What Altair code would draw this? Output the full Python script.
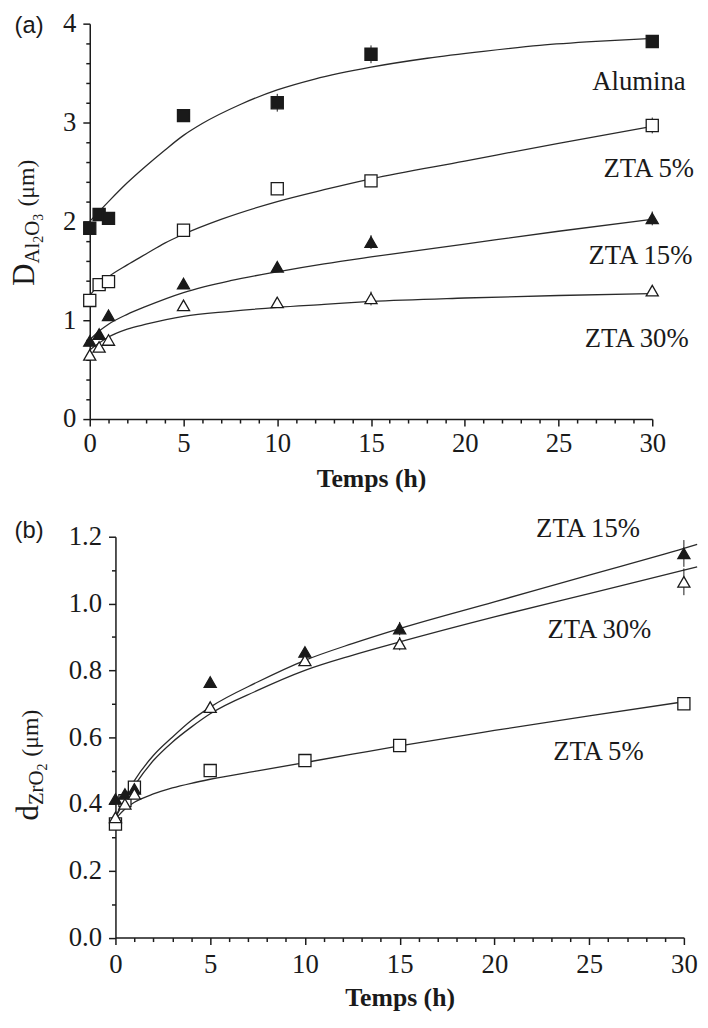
import altair as alt
import pandas as pd

FONT = "Liberation Serif"
SANS = "Liberation Sans"
INK = "#1a1a1a"

# ---------------- data ----------------
series = ["Alumina", "ZTA 5%", "ZTA 15%", "ZTA 30%"]
shapes = ["square", "square", "triangle-up", "triangle-up"]
fills = [INK, "white", INK, "white"]

# Panel (a): D Al2O3 (µm) vs Temps (h)
t_pts_a = [0, 0.5, 1, 5, 10, 15, 30]
a_alumina = [1.93, 2.07, 2.03, 3.07, 3.20, 3.69, 3.82]
a_zta5 = [1.20, 1.36, 1.39, 1.91, 2.33, 2.41, 2.97]
a_zta15 = [0.79, 0.86, 1.05, 1.37, 1.54, 1.79, 2.03]
a_zta30 = [0.65, 0.73, 0.80, 1.15, 1.18, 1.22, 1.30]
# error bars (half-width)
ea_alumina = [0, 0, 0, 0.04, 0.09, 0.09, 0.03]
ea_zta5 = [0, 0, 0, 0.05, 0.03, 0.04, 0.08]
ea_zta15 = [0, 0, 0, 0.03, 0.04, 0.07, 0.07]
ea_zta30 = [0, 0, 0, 0.05, 0.04, 0.07, 0.04]

t_fit_al = [0, 1, 2, 3, 4, 5, 6, 8, 10, 12, 15, 18, 21, 24, 27, 30]
fa_alumina = [2.00, 2.20, 2.39, 2.56, 2.72, 2.87, 2.99, 3.18, 3.33, 3.44, 3.56, 3.65, 3.72, 3.78, 3.82, 3.85]
t_fit_z5 = [0, 0.5, 1, 2, 3, 4, 5, 7, 10, 12.5, 15, 20, 25, 30]
fa_zta5 = [1.25, 1.36, 1.44, 1.56, 1.67, 1.78, 1.87, 2.02, 2.20, 2.32, 2.43, 2.61, 2.79, 2.96]
t_fit_z = [0, 0.5, 1, 2, 3, 5, 7.5, 10, 12.5, 15, 20, 25, 30]
fa_zta15 = [0.80, 0.89, 0.96, 1.06, 1.14, 1.28, 1.40, 1.49, 1.57, 1.64, 1.77, 1.90, 2.02]
fa_zta30 = [0.70, 0.77, 0.83, 0.91, 0.96, 1.04, 1.09, 1.13, 1.16, 1.19, 1.225, 1.25, 1.27]

label_series_a = ["Alumina", "ZTA 5%", "ZTA 15%", "ZTA 30%"]
label_t_a = [26.8, 27.4, 26.6, 26.4]
label_v_a = [3.41, 2.53, 1.65, 0.81]

# Panel (b): d ZrO2 (µm) vs Temps (h)
t_pts_b = [0, 0.5, 1, 5, 10, 15, 30]
b_zta5 = [0.34, 0.41, 0.45, 0.50, 0.53, 0.575, 0.70]
b_zta15 = [0.415, 0.43, 0.445, 0.765, 0.855, 0.925, 1.15]
b_zta30 = [0.36, 0.40, 0.43, 0.69, 0.83, 0.88, 1.065]
eb_zta5 = [0, 0, 0, 0.01, 0.01, 0.012, 0.015]
eb_zta15 = [0, 0, 0, 0.012, 0.015, 0.02, 0.04]
eb_zta30 = [0, 0, 0, 0.015, 0.015, 0.02, 0.04]

t_fit_b5 = [0, 0.5, 1, 2, 3, 4, 5, 7.5, 10, 12.5, 15, 20, 25, 30]
fb_zta5 = [0.355, 0.385, 0.405, 0.43, 0.448, 0.462, 0.474, 0.499, 0.524, 0.549, 0.574, 0.62, 0.664, 0.706]
t_fit_b = [0, 0.5, 1, 2, 3, 4, 5, 7.5, 10, 12.5, 15, 20, 25, 30, 30.7]
fb_zta15 = [0.36, 0.42, 0.47, 0.545, 0.60, 0.65, 0.69, 0.765, 0.83, 0.88, 0.925, 1.005, 1.085, 1.165, 1.177]
fb_zta30 = [0.36, 0.41, 0.455, 0.53, 0.585, 0.63, 0.67, 0.74, 0.80, 0.845, 0.885, 0.96, 1.03, 1.10, 1.11]

label_series_b = ["ZTA 15%", "ZTA 30%", "ZTA 5%"]
label_t_b = [22.2, 22.8, 23.1]
label_v_b = [1.223, 0.92, 0.555]


def long_df(items):
    rows = []
    for name, t, vals, errs in items:
        for tt, vv, ee in zip(t, vals, errs):
            rows.append({"t": tt, "v": vv, "s": name, "lo": vv - ee, "hi": vv + ee, "e": ee})
    return pd.DataFrame(rows)


pts_a = long_df([
    ("Alumina", t_pts_a, a_alumina, ea_alumina),
    ("ZTA 5%", t_pts_a, a_zta5, ea_zta5),
    ("ZTA 15%", t_pts_a, a_zta15, ea_zta15),
    ("ZTA 30%", t_pts_a, a_zta30, ea_zta30),
])
fit_a = long_df([
    ("Alumina", t_fit_al, fa_alumina, [0] * len(t_fit_al)),
    ("ZTA 5%", t_fit_z5, fa_zta5, [0] * len(t_fit_z5)),
    ("ZTA 15%", t_fit_z, fa_zta15, [0] * len(t_fit_z)),
    ("ZTA 30%", t_fit_z, fa_zta30, [0] * len(t_fit_z)),
])
lab_a = pd.DataFrame({"s": label_series_a, "t": label_t_a, "v": label_v_a})

pts_b = long_df([
    ("ZTA 5%", t_pts_b, b_zta5, eb_zta5),
    ("ZTA 15%", t_pts_b, b_zta15, eb_zta15),
    ("ZTA 30%", t_pts_b, b_zta30, eb_zta30),
])
fit_b = long_df([
    ("ZTA 5%", t_fit_b5, fb_zta5, [0] * len(t_fit_b5)),
    ("ZTA 15%", t_fit_b, fb_zta15, [0] * len(t_fit_b)),
    ("ZTA 30%", t_fit_b, fb_zta30, [0] * len(t_fit_b)),
])
lab_b = pd.DataFrame({"s": label_series_b, "t": label_t_b, "v": label_v_b})

dummy = pd.DataFrame({"k": [0]})

# ---------------- layout (pixels inside the single plot area) ----------------
W = 601            # common plot-area width
H = 924.5          # common plot-area height (top of panel a to bottom of panel b)
A_W, A_H = 569, 400
B_X0, B_TOP = 26, 519

# ---------------- helpers ----------------
x_values = list(range(0, 31))


def x_axis(label_pad, title_pad, offset):
    return alt.Axis(
        orient="bottom",
        offset=offset,
        values=x_values,
        labelExpr="datum.value % 5 === 0 ? datum.label : ''",
        tickSize={"condition": {"test": "datum.value % 5 === 0", "value": 7}, "value": 4},
        labelPadding=label_pad,
        labelFont=FONT,
        labelFontSize=27,
        labelColor=INK,
        labelOverlap=False,
        labelFlush=False,
        title="Temps (h)",
        titleFont=FONT,
        titleFontWeight="bold",
        titleFontSize=26,
        titleColor=INK,
        titlePadding=title_pad,
        grid=False,
    )


def y_axis(values, major_test, fmt, offset=0):
    return alt.Axis(
        orient="left",
        offset=offset,
        values=values,
        labelExpr=f"{major_test} ? format(datum.value, '{fmt}') : ''",
        tickSize={"condition": {"test": major_test, "value": 7}, "value": 4},
        labelPadding=7,
        labelFont=FONT,
        labelFontSize=27,
        labelColor=INK,
        labelOverlap=False,
        labelFlush=False,
        title=None,
        grid=False,
    )


def txt(text, x, y, size, font=FONT, angle=0, align="left", baseline="alphabetic"):
    kw = dict(text=text, fontSize=size, font=font, align=align, baseline=baseline, color=INK)
    if angle:
        kw["angle"] = angle
    return alt.Chart(dummy).mark_text(**kw).encode(x=alt.value(x), y=alt.value(y))


shape_scale = alt.Scale(domain=series, range=shapes)
fill_scale = alt.Scale(domain=series, range=fills)


def panel(pts, fit, lab, xenc, yscale, yaxis, extras):
    yenc = alt.Y("v:Q", scale=yscale, axis=yaxis)
    curves = alt.Chart(fit).mark_line(interpolate="monotone", color="#2a2a2a", strokeWidth=1.3, clip=False).encode(
        x=xenc, y=yenc, detail="s:N", order="t:Q"
    )
    errs = (
        alt.Chart(pts)
        .transform_filter("datum.e > 0")
        .mark_rule(color=INK, strokeWidth=1)
        .encode(x=xenc, y=alt.Y("lo:Q", scale=yscale, axis=yaxis), y2="hi:Q")
    )
    marks = alt.Chart(pts).mark_point(filled=False, stroke=INK, strokeWidth=1.3, opacity=1, size=150).encode(
        x=xenc,
        y=yenc,
        shape=alt.Shape("s:N", scale=shape_scale, legend=None),
        fill=alt.Fill("s:N", scale=fill_scale, legend=None),
    )
    labels = alt.Chart(lab).mark_text(align="left", baseline="middle", fontSize=27, font=FONT, color=INK).encode(
        x=xenc, y=yenc, text="s:N"
    )
    return alt.layer(curves, errs, marks, labels, *extras)


# ---------------- panel (a) ----------------
xa = alt.X(
    "t:Q",
    scale=alt.Scale(domain=[0, 30], nice=False, zero=False, range=[0, A_W]),
    axis=x_axis(5, 9, -(H - A_H)),
)
ya_scale = alt.Scale(domain=[0, 4], nice=False, range=[A_H, 0])
ya_axis = y_axis([round(i * 0.2, 1) for i in range(21)], "abs(datum.value - round(datum.value)) < 1e-6", ".0f")
extras_a = [
    txt("(a)", -76, 2, 24, font=SANS, baseline="middle"),
    txt("D", -56, 265, 31, angle=270),
    txt("Al", -51, 242.6, 21, angle=270),
    txt("2", -47, 221.6, 14, angle=270),
    txt("O", -51, 214.6, 21, angle=270),
    txt("3", -47, 199.4, 14, angle=270),
    txt("(\u03bcm)", -56, 185, 24, angle=270),
]
layer_a = panel(pts_a, fit_a, lab_a, xa, ya_scale, ya_axis, extras_a)

# ---------------- panel (b) ----------------
xb = alt.X(
    "t:Q",
    scale=alt.Scale(domain=[0, 30], nice=False, zero=False, range=[B_X0, W]),
    axis=x_axis(7, 8, 0),
)
yb_scale = alt.Scale(domain=[0, 1.2], nice=False, range=[H, B_TOP])
yb_axis = y_axis(
    [round(i * 0.1, 1) for i in range(13)],
    "abs(datum.value * 5 - round(datum.value * 5)) < 1e-6",
    ".1f",
    offset=-B_X0,
)
extras_b = [
    txt("(b)", -76, B_TOP - 6, 24, font=SANS, baseline="middle"),
    txt("d", -52, B_TOP + 287, 31, angle=270),
    txt("Zr", -47, B_TOP + 271.5, 21, angle=270),
    txt("O", -47, B_TOP + 251.7, 21, angle=270),
    txt("2", -43, B_TOP + 236.5, 14, angle=270),
    txt("(\u03bcm)", -52, B_TOP + 222.5, 24, angle=270),
]
layer_b = panel(pts_b, fit_b, lab_b, xb, yb_scale, yb_axis, extras_b)

chart = (
    alt.layer(layer_a, layer_b)
    .resolve_scale(x="independent", y="independent")
    .resolve_axis(x="independent", y="independent")
    .properties(
        width=W,
        height=H,
        autosize=alt.AutoSizeParams(type="none"),
        padding={"left": 82.7, "top": 10, "right": 16.3, "bottom": 75.5},
    )
    .configure_view(stroke="transparent")
    .configure_axis(
        domainColor=INK,
        tickColor=INK,
        domainWidth=1.5,
        tickWidth=1.5,
        labelColor=INK,
        titleColor=INK,
        labelFont=FONT,
        titleFont=FONT,
    )
)

chart.save("out.html", embed_options={"renderer": "svg", "actions": False})
